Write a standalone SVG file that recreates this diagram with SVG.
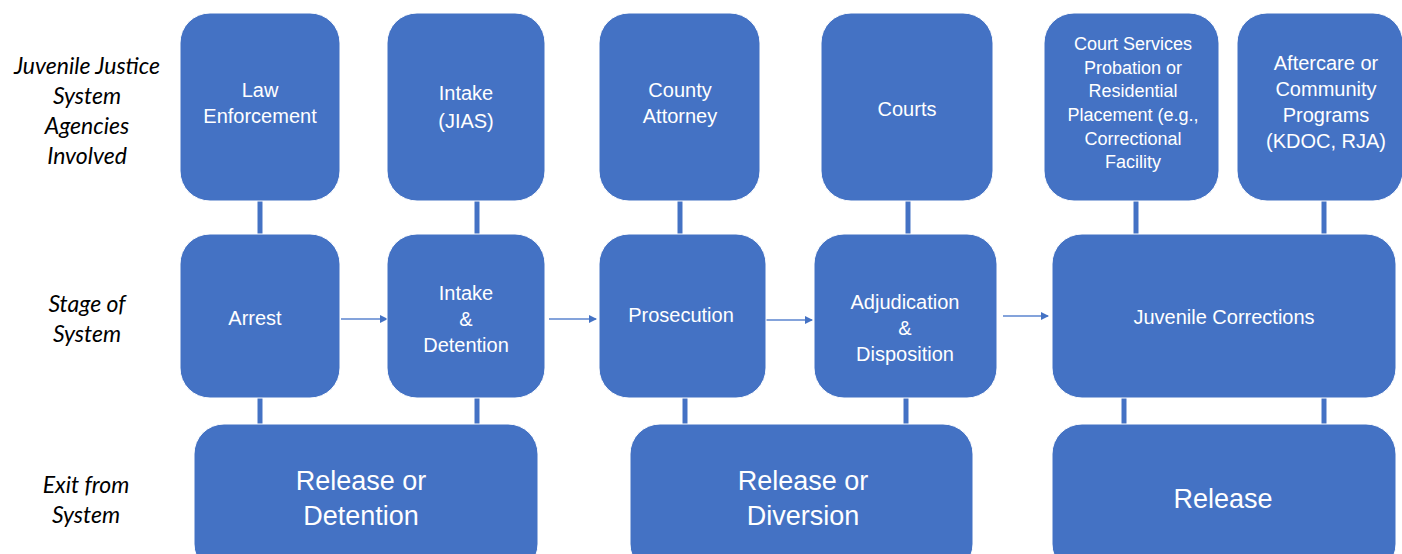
<svg xmlns="http://www.w3.org/2000/svg" width="1402" height="554" viewBox="0 0 1402 554">
<style>
.box{fill:#4472C4;stroke:#ffffff;stroke-width:1;}
.t{font-family:"Liberation Sans",Arial,sans-serif;font-size:20px;fill:#ffffff;text-anchor:middle;}
.s{font-size:18px;}
.big{font-size:27px;}
.lbl{font-family:Lato,"Liberation Sans",sans-serif;font-style:italic;font-size:23px;fill:#000000;text-anchor:middle;}
.v{stroke:#4472C4;stroke-width:5;fill:none;}
.a{stroke:#5b84cf;stroke-width:1.5;fill:none;marker-end:url(#ah);}
</style>
<defs>
<marker id="ah" markerWidth="8" markerHeight="8" refX="7" refY="4" orient="auto" markerUnits="userSpaceOnUse">
<path d="M0,0 L8,4 L0,8 Z" fill="#4472C4"/>
</marker>
</defs>
<rect width="1402" height="554" fill="#ffffff"/>
<g id="connectors">
<line class="v" x1="260" y1="200" x2="260" y2="235"/>
<line class="v" x1="477" y1="200" x2="477" y2="235"/>
<line class="v" x1="680" y1="200" x2="680" y2="235"/>
<line class="v" x1="908" y1="200" x2="908" y2="235"/>
<line class="v" x1="1136" y1="200" x2="1136" y2="235"/>
<line class="v" x1="1324" y1="200" x2="1324" y2="235"/>
<line class="v" x1="260" y1="397" x2="260" y2="425"/>
<line class="v" x1="477" y1="397" x2="477" y2="425"/>
<line class="v" x1="685" y1="397" x2="685" y2="425"/>
<line class="v" x1="906" y1="397" x2="906" y2="425"/>
<line class="v" x1="1124" y1="397" x2="1124" y2="425"/>
<line class="v" x1="1324" y1="397" x2="1324" y2="425"/>
<line class="a" x1="341" y1="319" x2="387" y2="319"/>
<line class="a" x1="549" y1="319" x2="596" y2="319"/>
<line class="a" x1="766" y1="320" x2="812" y2="320"/>
<line class="a" x1="1003" y1="316" x2="1048" y2="316"/>
</g>
<g id="label-agencies">
<text class="lbl" x="87" y="74">Juvenile Justice</text>
<text class="lbl" x="87" y="104">System</text>
<text class="lbl" x="87" y="134">Agencies</text>
<text class="lbl" x="87" y="164">Involved</text>
</g>
<g id="label-stage">
<text class="lbl" x="87" y="312">Stage of</text>
<text class="lbl" x="87" y="342">System</text>
</g>
<g id="label-exit">
<text class="lbl" x="86" y="493">Exit from</text>
<text class="lbl" x="86" y="523">System</text>
</g>
<g id="law-enforcement">
<rect class="box" x="180" y="13" width="160" height="188" rx="30"/>
<text class="t" x="260" y="97">Law</text>
<text class="t" x="260" y="123">Enforcement</text>
</g>
<g id="intake-jias">
<rect class="box" x="387" y="13" width="158" height="188" rx="30"/>
<text class="t" x="466" y="100">Intake</text>
<text class="t" x="466" y="128">(JIAS)</text>
</g>
<g id="county-attorney">
<rect class="box" x="599" y="13" width="161" height="188" rx="30"/>
<text class="t" x="680" y="97">County</text>
<text class="t" x="680" y="123">Attorney</text>
</g>
<g id="courts">
<rect class="box" x="821" y="13" width="172" height="188" rx="30"/>
<text class="t" x="907" y="116">Courts</text>
</g>
<g id="court-services">
<rect class="box" x="1044" y="13" width="175" height="188" rx="30"/>
<text class="t s" x="1133" y="50">Court Services</text>
<text class="t s" x="1133" y="74">Probation or</text>
<text class="t s" x="1133" y="97">Residential</text>
<text class="t s" x="1133" y="121">Placement (e.g.,</text>
<text class="t s" x="1133" y="145">Correctional</text>
<text class="t s" x="1133" y="168">Facility</text>
</g>
<g id="aftercare">
<rect class="box" x="1237" y="13" width="166" height="188" rx="30"/>
<text class="t" x="1326" y="70">Aftercare or</text>
<text class="t" x="1326" y="96">Community</text>
<text class="t" x="1326" y="122">Programs</text>
<text class="t" x="1326" y="148">(KDOC, RJA)</text>
</g>
<g id="arrest">
<rect class="box" x="180" y="234" width="160" height="164" rx="30"/>
<text class="t" x="255" y="325">Arrest</text>
</g>
<g id="intake-detention">
<rect class="box" x="387" y="234" width="158" height="164" rx="30"/>
<text class="t" x="466" y="300">Intake</text>
<text class="t" x="466" y="326">&amp;</text>
<text class="t" x="466" y="352">Detention</text>
</g>
<g id="prosecution">
<rect class="box" x="599" y="234" width="167" height="164" rx="30"/>
<text class="t" x="681" y="322">Prosecution</text>
</g>
<g id="adjudication">
<rect class="box" x="814" y="234" width="183" height="164" rx="30"/>
<text class="t" x="905" y="309">Adjudication</text>
<text class="t" x="905" y="335">&amp;</text>
<text class="t" x="905" y="361">Disposition</text>
</g>
<g id="juvenile-corrections">
<rect class="box" x="1052" y="234" width="344" height="164" rx="30"/>
<text class="t" x="1224" y="324">Juvenile Corrections</text>
</g>
<g id="release-detention">
<rect class="box" x="194" y="424" width="344" height="150" rx="30"/>
<text class="t big" x="361" y="490">Release or</text>
<text class="t big" x="361" y="525">Detention</text>
</g>
<g id="release-diversion">
<rect class="box" x="630" y="424" width="343" height="150" rx="30"/>
<text class="t big" x="803" y="490">Release or</text>
<text class="t big" x="803" y="525">Diversion</text>
</g>
<g id="release">
<rect class="box" x="1052" y="424" width="344" height="150" rx="30"/>
<text class="t big" x="1223" y="508">Release</text>
</g>
</svg>
